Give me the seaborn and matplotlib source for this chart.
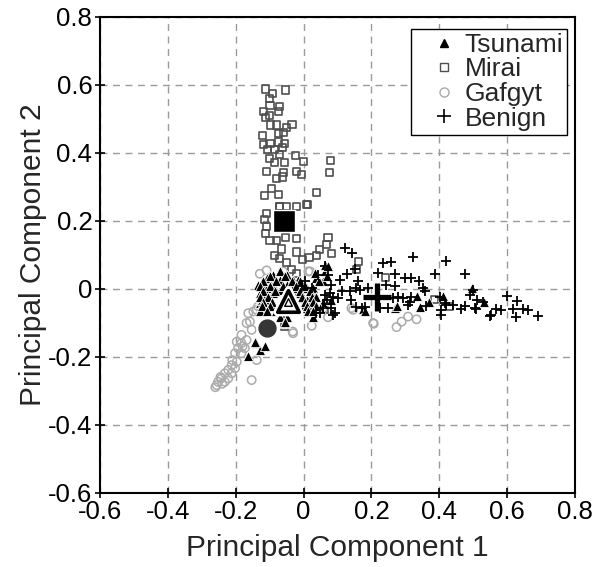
import matplotlib
matplotlib.use("Agg")
import matplotlib.pyplot as plt
import seaborn as sns
from matplotlib.lines import Line2D

# ---------------- data ----------------
tsunami_x = [-0.070, -0.090, -0.050, -0.109, -0.070, -0.031, -0.124, -0.090, -0.050, -0.011,
             -0.109, -0.070, -0.031, 0.009, -0.129, -0.090, -0.050, -0.011, 0.028, -0.109,
             -0.001, 0.019, -0.129, -0.094, 0.004, 0.033, 0.058, -0.114, 0.024, 0.048,
             0.058, 0.063, 0.038, -0.140, -0.129, -0.163, -0.143, -0.114, -0.055, -0.050,
             -0.065, 0.028, -0.001, -0.119, -0.104, -0.119, 0.063, 0.046, 0.028, 0.024,
             0.269, 0.333, 0.343, 0.370, 0.411, 0.495, 0.531, 0.174, -0.058, 0.033,
             0.068, 0.072, 0.082, 0.181, 0.274, -0.134, -0.124, -0.129, 0.009, 0.019,
             -0.016, -0.070,
             -0.070, -0.099, -0.055, -0.119, -0.080, -0.035, -0.011, -0.129, -0.099, -0.060,
             -0.021, 0.004, -0.119, -0.085, -0.011, 0.019, -0.129, -0.104, -0.006, 0.024,
             0.038, -0.119, -0.094, 0.004, 0.028, -0.124, -0.099, -0.021, 0.009, 0.038,
             -0.109, -0.080, 0.014, 0.028, -0.070, -0.050, -0.055]
tsunami_y = [0.056, 0.041, 0.041, 0.032, 0.027, 0.027, 0.017, 0.012, 0.012, 0.012,
             0.002, -0.003, 0.002, 0.002, -0.013, -0.013, -0.008, -0.013, -0.008, -0.027,
             -0.027, -0.023, -0.042, -0.047, -0.047, -0.042, -0.038, -0.062, -0.062, -0.057,
             0.022, 0.051, 0.032, -0.160, -0.180, -0.198, -0.156, -0.170, -0.101, -0.082,
             -0.082, -0.082, -0.057, -0.052, -0.042, -0.023, 0.071, 0.022, 0.002, -0.038,
             -0.057, -0.021, -0.054, -0.038, -0.021, 0.002, -0.038, -0.060, -0.082, 0.046,
             0.036, 0.066, -0.032, -0.067, -0.052, 0.012, -0.032, -0.067, -0.032, -0.047,
             0.027, 0.051,
             0.051, 0.036, 0.036, 0.022, 0.022, 0.022, 0.022, 0.007, 0.007, 0.007,
             0.007, 0.007, -0.008, -0.008, -0.008, -0.008, -0.023, -0.023, -0.023, -0.023,
             -0.023, -0.038, -0.038, -0.038, -0.038, -0.052, -0.052, -0.052, -0.052, -0.052,
             -0.067, -0.067, -0.067, -0.067, -0.082, -0.082, -0.097]

mirai_x = [-0.111, -0.091, -0.052, -0.101, -0.099, -0.070, -0.119, -0.075, -0.111, -0.101,
           -0.097, -0.080, -0.050, -0.034, -0.075, -0.058, -0.121, -0.117, -0.099, -0.075,
           -0.055, -0.107, -0.085, -0.062, -0.070, -0.101, -0.085, -0.057, -0.024, -0.001,
           0.080, -0.109, -0.060, -0.021, -0.006, 0.077, -0.080, -0.062, -0.094, -0.114,
           -0.075, 0.038, -0.072, -0.050, -0.021, 0.012, -0.109, -0.070, -0.114, -0.109,
           -0.111, -0.099, -0.080, -0.052, -0.021, 0.072, 0.068, 0.048, 0.082, 0.038,
           0.016, -0.003, -0.021, -0.065, -0.085, -0.070, -0.050, -0.035, -0.021, 0.161,
           0.156, -0.011, -0.055, 0.242, 0.387, 0.431, 0.063, 0.009]
mirai_y = [0.588, 0.575, 0.585, 0.561, 0.539, 0.537, 0.522, 0.522, 0.504, 0.509,
           0.482, 0.482, 0.475, 0.484, 0.458, 0.460, 0.450, 0.425, 0.427, 0.432,
           0.428, 0.411, 0.411, 0.417, 0.394, 0.383, 0.371, 0.371, 0.392, 0.374,
           0.378, 0.344, 0.342, 0.345, 0.337, 0.341, 0.325, 0.329, 0.295, 0.275,
           0.278, 0.284, 0.243, 0.243, 0.241, 0.248, 0.222, 0.241, 0.204, 0.184,
           0.162, 0.143, 0.143, 0.150, 0.147, 0.150, 0.130, 0.115, 0.103, 0.098,
           0.091, 0.086, 0.108, 0.117, 0.097, 0.088, 0.078, 0.056, 0.046, 0.081,
           0.056, -0.018, -0.111, 0.032, -0.032, -0.052, -0.062, 0.248]

gafgyt_x = [-0.158, -0.153, -0.183, -0.197, -0.183, -0.168, -0.193, -0.173, -0.202, -0.183,
            -0.138, -0.197, -0.212, -0.202, -0.222, -0.232, -0.212, -0.242, -0.222, -0.252,
            -0.232, -0.256, -0.153, -0.163, -0.148, -0.134, -0.129, 0.019, -0.138, -0.168,
            -0.031, -0.032, 0.024, 0.072, 0.014, 0.207, 0.274, 0.289, 0.308, 0.333,
            0.141, 0.058, -0.060, 0.205, 0.146, -0.245, -0.260, -0.240, -0.210, -0.180,
            -0.109]
gafgyt_y = [-0.097, -0.121, -0.136, -0.156, -0.160, -0.151, -0.175, -0.175, -0.190, -0.190,
            -0.210, -0.215, -0.225, -0.234, -0.239, -0.249, -0.249, -0.264, -0.264, -0.274,
            -0.274, -0.284, -0.269, -0.072, -0.067, -0.052, 0.044, 0.051, -0.062, -0.101,
            -0.131, -0.126, -0.109, -0.084, 0.051, -0.103, -0.113, -0.097, -0.082, -0.090,
            -0.057, -0.057, 0.051, -0.101, -0.062, -0.260, -0.290, -0.280, -0.210, -0.170,
            0.054]

benign_x = [0.122, 0.144, 0.323, 0.419, 0.234, 0.257, 0.475, 0.387, 0.220, 0.269,
            0.298, 0.318, 0.341, 0.107, 0.127, 0.161, 0.154, 0.244, 0.269, 0.352,
            0.077, 0.112, 0.136, 0.166, 0.190, 0.068, 0.102, 0.141, 0.154, 0.181,
            0.082, 0.048, 0.087, 0.249, 0.293, 0.313, 0.401, 0.416, 0.406, 0.406,
            0.441, 0.465, 0.500, 0.490, 0.510, 0.529, 0.508, 0.551, 0.568, 0.583,
            0.600, 0.629, 0.617, 0.627, 0.647, 0.662, 0.692, 0.308, 0.063, 0.072,
            0.151, 0.279, 0.362, 0.087, 0.225, 0.549, 0.475, 0.505, 0.421, 0.043,
            0.082, 0.063, -0.006, 0.024, 0.004, 0.058, 0.092, 0.171, 0.264, 0.318,
            0.357, 0.038]
benign_y = [0.120, 0.105, 0.094, 0.081, 0.076, 0.079, 0.044, 0.044, 0.046, 0.044,
            0.032, 0.032, 0.022, 0.027, 0.044, 0.022, 0.002, 0.012, 0.009, 0.002,
            -0.013, -0.008, -0.008, -0.003, 0.002, -0.032, -0.027, -0.032, -0.054, -0.054,
            -0.057, -0.072, -0.077, -0.057, -0.027, -0.038, -0.023, -0.042, -0.062, -0.077,
            -0.047, -0.060, -0.005, -0.018, -0.032, -0.040, -0.060, -0.077, -0.060, -0.062,
            -0.021, -0.035, -0.060, -0.084, -0.060, -0.062, -0.080, -0.047, 0.066, 0.041,
            0.058, -0.023, -0.052, -0.023, -0.057, -0.080, -0.052, -0.057, -0.047, 0.041,
            0.012, -0.018, 0.007, 0.002, 0.022, -0.057, -0.072, -0.057, -0.027, -0.023,
            -0.008, -0.072]

centroid_names = ["Tsunami", "Mirai", "Gafgyt", "Benign"]
centroid_x = [-0.045, -0.058, -0.108, 0.215]
centroid_y = [-0.036, 0.200, -0.117, -0.025]

x_ticks = [-0.6, -0.4, -0.2, 0, 0.2, 0.4, 0.6, 0.8]
y_ticks = [-0.6, -0.4, -0.2, 0, 0.2, 0.4, 0.6, 0.8]
tick_labels = ["-0.6", "-0.4", "-0.2", "0", "0.2", "0.4", "0.6", "0.8"]

# ---------------- styling ----------------
sns.set_style("white")
plt.rcParams["font.family"] = ["Liberation Sans", "DejaVu Sans"]

fig = plt.figure(figsize=(5.97, 5.67), dpi=100)
ax = fig.add_axes([100 / 597, 1 - 492.5 / 567, 475 / 597, 475.5 / 567])

# small points
sns.scatterplot(x=gafgyt_x, y=gafgyt_y, marker="o", s=36, facecolor="none",
                edgecolor="#ababab", linewidth=1.1, ax=ax, zorder=3)
sns.scatterplot(x=mirai_x, y=mirai_y, marker="s", s=26, facecolor="none",
                edgecolor="#4f4f4f", linewidth=1.2, ax=ax, zorder=4)
sns.scatterplot(x=tsunami_x, y=tsunami_y, marker="^", s=52, color="black",
                edgecolor="white", linewidth=0.6, ax=ax, zorder=5)
sns.scatterplot(x=benign_x, y=benign_y, marker="+", s=50, color="black",
                linewidth=1.3, ax=ax, zorder=6)

# centroids
sns.scatterplot(x=[centroid_x[1]], y=[centroid_y[1]], marker="s", s=230, color="black",
                edgecolor="white", linewidth=1.0, ax=ax, zorder=8)
sns.scatterplot(x=[centroid_x[2]], y=[centroid_y[2]], marker="o", s=215, color="#363636",
                edgecolor="white", linewidth=1.5, ax=ax, zorder=8)
sns.scatterplot(x=[centroid_x[0]], y=[centroid_y[0]], marker="^", s=240, color="white",
                edgecolor="white", linewidth=6.0, ax=ax, zorder=8)
sns.scatterplot(x=[centroid_x[0]], y=[centroid_y[0]], marker="^", s=240, facecolor="white",
                edgecolor="black", linewidth=2.6, ax=ax, zorder=9)
sns.scatterplot(x=[centroid_x[0]], y=[centroid_y[0] - 0.004], marker="^", s=30, facecolor="white",
                edgecolor="black", linewidth=1.0, ax=ax, zorder=10)
sns.scatterplot(x=[centroid_x[3]], y=[centroid_y[3]], marker="+", s=380, color="black",
                linewidth=3.8, ax=ax, zorder=9)

ax.set_xlim(-0.6, 0.8)
ax.set_ylim(-0.6, 0.8)
ax.set_xticks(x_ticks)
ax.set_yticks(y_ticks)
ax.set_xticklabels(tick_labels)
ax.set_yticklabels(tick_labels)
ax.tick_params(axis="both", labelsize=18.5, direction="inout", length=7, width=1.2,
               colors="black", pad=2, bottom=True, left=True)
ax.grid(True, color="#9a9a9a", linestyle=(0, (5, 4)), linewidth=1.0)
ax.set_axisbelow(True)
for sp in ax.spines.values():
    sp.set_color("black")
    sp.set_linewidth(1.5)

ax.set_xlabel("Principal Component 1", fontsize=21.5, labelpad=7)
ax.set_ylabel("Principal Component 2", fontsize=21.5, labelpad=1)

handles = [
    Line2D([], [], linestyle="none", marker="^", markersize=5.5, color="black"),
    Line2D([], [], linestyle="none", marker="s", markersize=5.5, markerfacecolor="none",
           markeredgecolor="#4f4f4f", markeredgewidth=1.0),
    Line2D([], [], linestyle="none", marker="o", markersize=6.5, markerfacecolor="none",
           markeredgecolor="#ababab", markeredgewidth=1.0),
    Line2D([], [], linestyle="none", marker="+", markersize=10, color="black",
           markeredgewidth=1.2),
]
leg = ax.legend(handles, centroid_names, loc="upper right",
                bbox_to_anchor=((567 - 100) / 475, 1 - 12 / 475), borderaxespad=0,
                fontsize=19, frameon=True, fancybox=False, framealpha=1,
                edgecolor="black", labelspacing=0.02, handlelength=2.27,
                handletextpad=-0.38, borderpad=0.15)
leg.get_frame().set_linewidth(1.0)
leg.set_zorder(20)

fig.savefig("out.png", dpi=100)
